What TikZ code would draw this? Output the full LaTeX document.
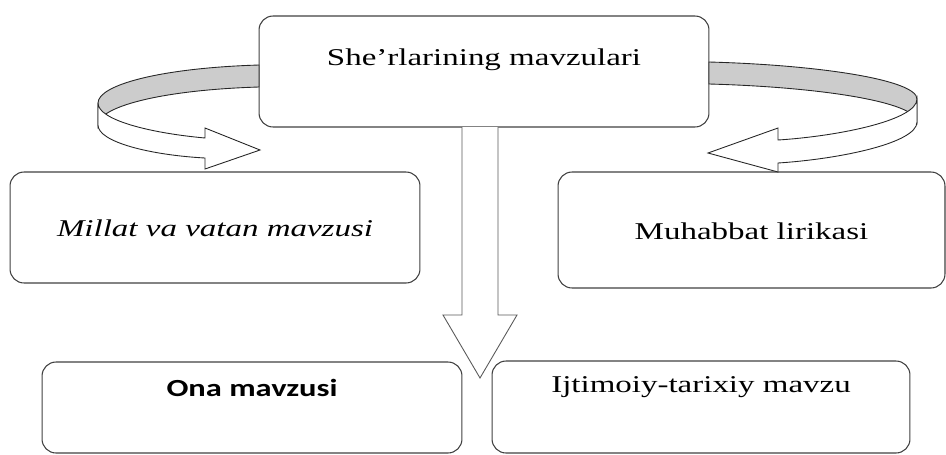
\documentclass[tikz,border=0pt]{standalone}
\usepackage{fontspec}
\setmainfont[FakeStretch=1.37]{Liberation Serif}
\newfontfamily\onafont[FakeStretch=1.32]{Carlito}
\begin{document}
\begin{tikzpicture}[x=0.02cm,y=-0.02cm,
  topicbox/.style={draw=black!75, line width=0.6pt, rounded corners=0.28cm,
    inner sep=0pt, font=\fontsize{13.7}{16}\selectfont},
  ribbon/.style={draw=black!85, line width=0.5pt, line join=miter}]
\useasboundingbox (0,0) rectangle (946,454);
% boxes
\node[topicbox, minimum width=9cm, text height=0.98cm, text depth=1.24cm] (mavzu) at (484,71.5) {She'rlarining mavzulari};
\node[topicbox, minimum width=8.2cm, text height=1.28cm, text depth=0.94cm] (millat) at (215,227.5) {\itshape Millat va vatan mavzusi};
\node[topicbox, minimum width=7.74cm, text height=1.34cm, text depth=0.98cm] (muhabbat) at (751.5,230) {Muhabbat lirikasi};
\node[topicbox, minimum width=8.4cm, text height=0.68cm, text depth=1.14cm, font=\onafont\bfseries\fontsize{14}{16}\selectfont] (ona) at (252,407.5) {Ona mavzusi};
\node[topicbox, minimum width=8.36cm, text height=0.62cm, text depth=1.22cm] (ijtimoiy) at (701,407) {Ijtimoiy-tarixiy mavzu};
% left curved arrow
\filldraw[ribbon, fill=black!20] (259,65) .. controls (160,68) and (98,85) .. (98,103) -- (98,125) .. controls (98,107) and (160,90) .. (259,87) -- cycle;
\filldraw[ribbon, fill=white] (98,103) .. controls (98,120) and (150,133) .. (205,138) -- (205,128) -- (260,150) -- (205,169) -- (205,158) .. controls (150,155) and (98,142) .. (98,125) -- cycle;
% right curved arrow
\filldraw[ribbon, fill=black!20] (709,62) .. controls (820,65) and (917,80) .. (917,99) -- (917,122) .. controls (917,102) and (820,87) .. (709,84) -- cycle;
\filldraw[ribbon, fill=white] (917,99) .. controls (917,120) and (840,136) .. (778,140) -- (778,128) -- (708,153) -- (778,172) -- (778,163) .. controls (840,159) and (917,143) .. (917,122) -- cycle;
% down arrow
\filldraw[ribbon, draw=black!65, fill=white] (462,127) -- (462,315) -- (443,315) -- (480,378) -- (517,315) -- (498,315) -- (498,127);
\end{tikzpicture}
\end{document}
